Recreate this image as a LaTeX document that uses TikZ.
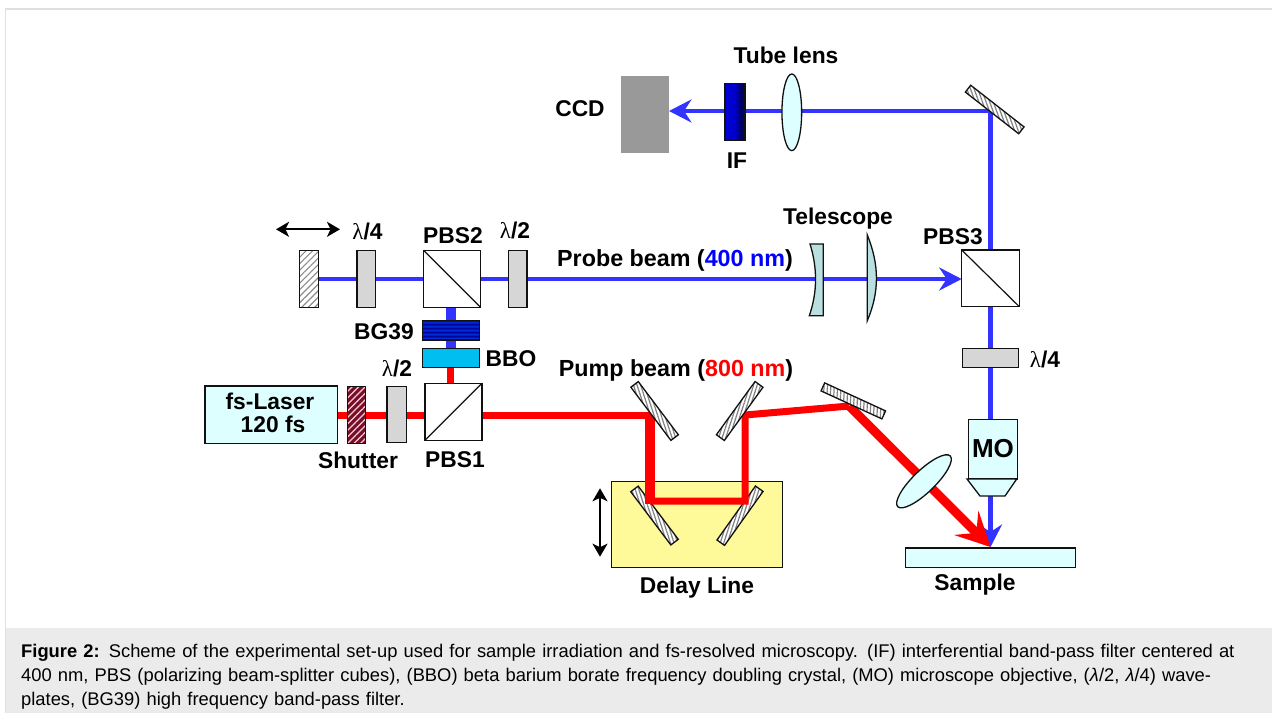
\documentclass[tikz,border=0pt]{standalone}
\usepackage{fontspec}
\setmainfont{Liberation Sans}
\newfontfamily\lamfont{Liberation Serif}
\usetikzlibrary{arrows.meta,patterns.meta,shapes.geometric}
\pgfdeclarelayer{back}
\pgfdeclarelayer{beams}
\pgfsetlayers{back,beams,main}
\definecolor{edge}{HTML}{111111}
\definecolor{paleCyan}{HTML}{DDFFFF}
\definecolor{plateGray}{HTML}{D6D6D6}
\definecolor{probeBlue}{HTML}{3333FF}
\definecolor{pumpRed}{HTML}{FF0000}
\definecolor{lensTeal}{HTML}{B9DFE0}
\definecolor{capBg}{HTML}{EBEBEB}
\definecolor{frameGray}{HTML}{E0E0E0}
\definecolor{bgDark}{HTML}{00008C}
\definecolor{bgLight}{HTML}{0030E0}
\pgfdeclareverticalshading{bgstripes}{100bp}{color(0bp)=(bgDark);color(25bp)=(bgDark);color(30bp)=(bgLight);color(35bp)=(bgDark);color(40bp)=(bgLight);color(45bp)=(bgDark);color(50bp)=(bgLight);color(55bp)=(bgDark);color(60bp)=(bgLight);color(65bp)=(bgDark);color(70bp)=(bgLight);color(75bp)=(bgDark);color(100bp)=(bgDark)}
\pgfdeclarehorizontalshading{ifshade}{100bp}{color(0bp)=(bgLight);color(25bp)=(blue!85!black);color(50bp)=(blue!80!black);color(65bp)=(blue!35!black);color(75bp)=(blue!55!black);color(100bp)=(blue!55!black)}
\tikzset{
  base/.style={draw=edge,line width=1.3pt,inner sep=0pt,outer sep=0pt,rectangle},
  size/.style 2 args={minimum width=#1pt,minimum height=#2pt},
  cube/.style={base,fill=white,size={57}{57}},
  plate/.style={base,fill=plateGray},
  pale/.style={base,fill=paleCyan},
  mirrorbar/.style={base,preaction={fill=white},pattern={Lines[angle=#1,distance=3.4pt,line width=1.2pt]},pattern color=black!50},
  lab/.style={font=\fontsize{22.8}{24}\selectfont\bfseries,anchor=base,inner sep=0pt},
  beamlab/.style={lab,font=\fontsize{23.3}{24}\selectfont\bfseries},
  bluebeam/.style={draw=probeBlue,line width=4.6pt},
  redbeam/.style={draw=pumpRed,line width=7pt},
  blueTip/.style={-{Stealth[length=22.5pt,width=23pt,inset=7.5pt,fill=probeBlue]}},
  redTip/.style={-{Stealth[length=34pt,width=34pt,inset=14pt,fill=pumpRed]}},
  moveTip/.style={{Stealth[length=13pt,width=15pt,inset=3.5pt]}-{Stealth[length=13pt,width=15pt,inset=3.5pt]},line width=2pt,black},
}
\newcommand{\lam}[1]{{\lamfont\mdseries λ}/#1}
\begin{document}
\begin{tikzpicture}[x=1pt,y=-1pt]
\useasboundingbox (0,0) rectangle (1272,713);
% frame and caption band
\fill[capBg] (6,628) rectangle (1272,713);
\draw[frameGray,line width=1.6pt] (5.5,713) -- (5.5,9.2) -- (1272,9.2);
\node[anchor=north west,align=left,inner sep=0pt,text width=1245pt,font=\fontsize{18.35}{23.9}\selectfont] (cap) at (21,644)
  {\textbf{Figure 2:} Scheme of the experimental set-up used for sample irradiation and fs-resolved microscopy. (IF) interferential band-pass filter centered at\\
   400 nm, PBS (polarizing beam-splitter cubes), (BBO) beta barium borate frequency doubling crystal, (MO) microscope objective, ({\itshape λ}/2, {\itshape λ}/4) wave-\\
   plates, (BG39) high frequency band-pass filter.};

% back layer: delay stage and its mirrors
\begin{pgfonlayer}{back}
\node[base,fill=yellow!40!white,size={171}{86}] (delay) at (696.8,524.3) {};
\node[mirrorbar=-72,size={66.6}{9.3},rotate=-53] (m3) at (654.5,515.5) {};
\node[mirrorbar=72,size={66.3}{9.3},rotate=54.5] (m4) at (740,515.7) {};
\end{pgfonlayer}

% mirrors above the beams
\node[mirrorbar=-72,size={66.6}{9.3},rotate=-53] (m1) at (654.6,411) {};
\node[mirrorbar=72,size={65.8}{9.8},rotate=54] (m2) at (739.7,411) {};
\node[mirrorbar=87,size={67}{8.8},rotate=-24.7] (m5) at (853.3,400.9) {};
\node[mirrorbar=-70,size={67.7}{8.7},rotate=-38] (m6) at (994.7,109.5) {};

% optics
\node[base,preaction={fill=white},pattern={Lines[angle=45,distance=4.6pt,line width=1.2pt]},pattern color=black!45,size={19}{57.4}] (retro) at (309.2,279) {};
\node[plate,size={18.3}{57.4}] (qw1) at (366.2,279) {};
\node[cube] (pbs2) at (452,278.8) {};
\draw[edge,line width=1.2pt] (pbs2.north west) -- (pbs2.south east);
\node[plate,size={18.7}{57}] (hw1) at (517.7,278.8) {};
\node[base,shade,shading=bgstripes,size={57}{19.7}] (bg39) at (450.8,330.2) {};
\node[base,fill={rgb,255:red,0;green,191;blue,240},size={57}{19.4}] (bbo) at (450.8,358) {};
\node[cube] (pbs1) at (453.5,411.7) {};
\draw[edge,line width=1.2pt] (pbs1.south west) -- (pbs1.north east);
\node[pale,size={132.7}{57.7}] (laser) at (271.3,414.8) {};
\node[base,preaction={fill={rgb,255:red,115;green,15;blue,45}},pattern={Lines[angle=45,distance=4.6pt,line width=1.2pt]},pattern color=white!80!red,size={18.4}{56.6}] (shutter) at (356.5,415) {};
\node[plate,size={19.3}{56}] (hw2) at (396.7,414.7) {};
\node[fill=black!40,inner sep=0pt,outer sep=0pt,size={48}{76.7}] (ccd) at (645,114.3) {};
\node[base,shade,shading=ifshade,size={20}{57.4}] (iff) at (735,112) {};
\node[ellipse,draw=edge,line width=1.3pt,fill=paleCyan,inner sep=0pt,outer sep=0pt,size={19.7}{76.7}] (tube) at (791.8,112.3) {};
\node[cube,size={57.6}{56.7}] (pbs3) at (990.5,278.3) {};
\draw[edge,line width=1.2pt] (pbs3.north west) -- (pbs3.south east);
\node[plate,size={56.4}{19.4}] (qw3) at (990.5,358) {};
\node[pale,size={49}{59.3}] (mo) at (993.2,449.3) {};
\draw[edge,line width=1.3pt,fill=paleCyan] (967,479) -- (1016.7,479) -- (1005,496) -- (980,496) -- cycle;
\node[pale,size={170.4}{19.3}] (sample) at (990.5,557.7) {};
\node[ellipse,draw=edge,line width=1.3pt,fill=paleCyan,inner sep=0pt,outer sep=0pt,size={73}{22},rotate=44] (focuslens) at (924,481.3) {};
% telescope
\draw[edge,line width=1.3pt,fill=lensTeal] (810,244) -- (823.3,244) -- (823.3,315.7) -- (809.3,315.7) .. controls (817.5,292) and (817.5,268) .. (810,244) -- cycle;
\draw[edge,line width=1.3pt,fill=lensTeal] (867.3,235) .. controls (879.5,265) and (879.5,292) .. (867.3,320.7) -- cycle;

% beams
\coordinate (hitTop) at (990.5,111);
\coordinate (focus) at (990.5,547);
\coordinate (pumpA) at (650,415);
\coordinate (pumpAtop) at (650,411.7);
\coordinate (pumpAbot) at (650,504.3);
\coordinate (pumpB) at (650,501);
\coordinate (pumpC) at (745,501);
\coordinate (pumpD) at (745,415);
\coordinate (pumpE) at (849.3,406);
\coordinate (laserOut) at (337,415);
\begin{pgfonlayer}{beams}
\draw[bluebeam,blueTip] (retro.east) -- (retro.east -| pbs3.west);
\draw[bluebeam,blueTip,line join=miter] (pbs3.north) -- (hitTop) -- (hitTop -| ccd.east);
\draw[bluebeam,blueTip] (pbs3.south) -- (focus);
\draw[probeBlue,line width=10pt] (pbs2.south -| bbo.north) -- (bbo.north);
\draw[pumpRed,line width=7pt] (bbo.south) -- (bbo.south |- pbs1.north);
\draw[redbeam] (laserOut) -- (laserOut -| pbs1.west);
\draw[redbeam] (pbs1.east |- pumpA) -- (pumpA);
\draw[pumpRed,line width=10pt] (pumpAtop) -- (pumpAbot);
\draw[redbeam,line join=miter] (pumpB) -- (pumpC) -- (pumpD) -- (pumpE);
\draw[pumpRed,line width=9pt,redTip] (pumpE) -- (focus);
\end{pgfonlayer}

% move arrows
\coordinate (mvL) at (276,229.3);
\coordinate (mvR) at (340,229.3);
\coordinate (mvT) at (600,488.3);
\coordinate (mvB) at (600,556.7);
\draw[moveTip] (mvL) -- (mvR);
\draw[moveTip] (mvT) -- (mvB);

% labels
\node[lab] (tTube) at (786,63) {Tube lens};
\node[lab] (tCCD) at (580,116) {CCD};
\node[lab] (tIF) at (737,168) {IF};
\node[lab] (tTele) at (838,224) {Telescope};
\node[lab] (tPBS3) at (953,244) {PBS3};
\node[lab] (tPBS2) at (453,243) {PBS2};
\node[lab] (tq1) at (367.5,239) {\lam{4}};
\node[lab] (th1) at (515,238) {\lam{2}};
\node[beamlab] (tProbe) at (675,266) {Probe beam ({\color{blue}400 nm})};
\node[lab] (tBG) at (384,339) {BG39};
\node[lab] (tBBO) at (511,366) {BBO};
\node[lab] (th2) at (397,376) {\lam{2}};
\node[lab] (tLas1) at (270,409) {fs-Laser};
\node[lab] (tLas2) at (273,432) {120 fs};
\node[lab] (tShut) at (358,468) {Shutter};
\node[lab] (tPBS1) at (455,467) {PBS1};
\node[beamlab] (tPump) at (676,376) {Pump beam ({\color{pumpRed}800 nm})};
\node[lab] (tDelay) at (697,593) {Delay Line};
\node[lab] (tSample) at (975,590) {Sample};
\node[lab,font=\fontsize{26}{28}\selectfont\bfseries] (tMO) at (993,457) {MO};
\node[lab] (tq3) at (1045,367) {\lam{4}};
\end{tikzpicture}
\end{document}
